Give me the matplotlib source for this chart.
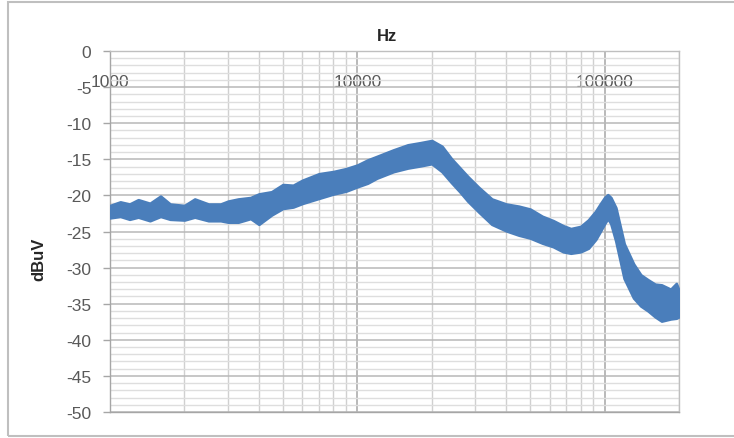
import matplotlib
matplotlib.use("Agg")
import matplotlib.pyplot as plt
from matplotlib.ticker import FixedLocator, NullFormatter, MultipleLocator
from matplotlib.patches import Rectangle

plt.rcParams['font.family'] = ['Liberation Sans', 'DejaVu Sans']
plt.rcParams['axes.unicode_minus'] = False

# Frequency (Hz) and upper / lower envelope of the measured noise band (dBuV)
freq = [1000, 1100, 1200, 1300, 1450, 1600, 1750, 2000, 2200, 2500, 2800, 3000,
        3300, 3700, 4000, 4500, 5000, 5500, 6000, 7000, 8000, 9000, 10000, 11000,
        12000, 14000, 16000, 18000, 20000, 22000, 24000, 26000, 28000, 31000,
        35000, 40000, 45000, 50000, 56000, 62000, 68000, 73000, 80000, 86000,
        92000, 96000, 100000, 103000, 106000, 111000, 120000, 131000, 140000,
        150000, 160000, 170000, 185000, 195000, 200000]
upper = [-21.4, -20.9, -21.2, -20.6, -21.1, -20.1, -21.2, -21.4, -20.5, -21.2, -21.2, -20.8,
         -20.5, -20.3, -19.8, -19.5, -18.5, -18.6, -17.9, -17.0, -16.7, -16.3, -15.8, -15.1,
         -14.6, -13.7, -13.0, -12.7, -12.4, -13.2, -14.9, -16.2, -17.4, -18.9,
         -20.5, -21.2, -21.5, -21.9, -22.9, -23.5, -24.2, -24.6, -24.3, -23.4,
         -22.2, -21.2, -20.3, -19.9, -20.3, -21.7, -26.7, -29.5, -31.0,
         -31.7, -32.3, -32.4, -33.0, -32.2, -33.2]
lower = [-23.1, -22.9, -23.3, -23.0, -23.5, -22.9, -23.3, -23.4, -23.0, -23.5, -23.5, -23.7,
         -23.7, -23.2, -24.0, -22.7, -21.8, -21.6, -21.1, -20.4, -19.8, -19.4, -18.8, -18.3,
         -17.6, -16.7, -16.2, -15.9, -15.6, -16.7, -18.2, -19.5, -20.8, -22.3,
         -24.0, -24.9, -25.5, -25.9, -26.6, -27.1, -27.8, -28.0, -27.8, -27.3,
         -26.1, -25.0, -23.9, -23.2, -23.9, -26.3, -31.5, -34.2, -35.3,
         -36.0, -36.8, -37.4, -37.1, -37.0, -36.8]

xticks = [1000, 10000, 100000]
xtick_labels = ["1000", "10000", "100000"]
yticks = list(range(0, -55, -5))

band_color = '#4a7ebb'
text_color = '#595959'

fig = plt.figure(figsize=(7.34, 4.39), dpi=100)
ax = fig.add_axes([0.1499, 0.0592, 0.7752, 0.8223])

ax.fill_between(freq, lower, upper, color=band_color, linewidth=2.0,
                edgecolor=band_color, zorder=3)

ax.set_xscale('log')
ax.set_xlim(1000, 200000)
ax.set_ylim(-50, 0)

# grid
ax.xaxis.set_major_locator(FixedLocator(xticks))
ax.xaxis.set_minor_locator(FixedLocator([m * d for d in (1000, 10000, 100000)
                                         for m in range(2, 10) if m * d <= 200000]))
ax.xaxis.set_minor_formatter(NullFormatter())
ax.set_xticklabels(xtick_labels)
ax.set_yticks(yticks)
ax.yaxis.set_minor_locator(MultipleLocator(1))

ax.grid(True, which='major', axis='x', color='#a6a6a6', linewidth=1.1, zorder=0)
ax.grid(True, which='minor', axis='x', color='#d0d0d0', linewidth=1.0, zorder=0)
ax.grid(True, which='major', axis='y', color='#b8b8b8', linewidth=1.1, zorder=0)
ax.grid(True, which='minor', axis='y', color='#dedede', linewidth=1.0, zorder=0)
ax.set_axisbelow(True)

for s in ax.spines.values():
    s.set_color('#bfbfbf')
    s.set_linewidth(1.0)
ax.spines['left'].set_color('#a6a6a6')
ax.spines['bottom'].set_color('#a6a6a6')

ax.tick_params(axis='y', which='major', direction='out', length=5, width=1,
               color='#a6a6a6', pad=8.5, labelsize=12.5, labelcolor=text_color)
ax.tick_params(axis='y', which='minor', length=0)
ax.tick_params(axis='x', which='both', bottom=False, top=False, length=0,
               labelbottom=False, labeltop=True, pad=-27, labelsize=12.5,
               labelcolor=text_color)

ax.set_title('Hz', fontweight='bold', fontsize=12, x=0.487, pad=8, color='#262626')
ax.set_ylabel('dBuV', fontweight='bold', fontsize=12, color='#262626')
ax.yaxis.set_label_coords(-0.111, 0.427)

# chart-area border
fig.patches.append(Rectangle((8 / 734, 1 - 437 / 439), 1.0, (437 - 3) / 439,
                             transform=fig.transFigure, fill=False,
                             edgecolor='#bfbfbf', linewidth=1.5, clip_on=False))

fig.savefig('out.png', dpi=100)
